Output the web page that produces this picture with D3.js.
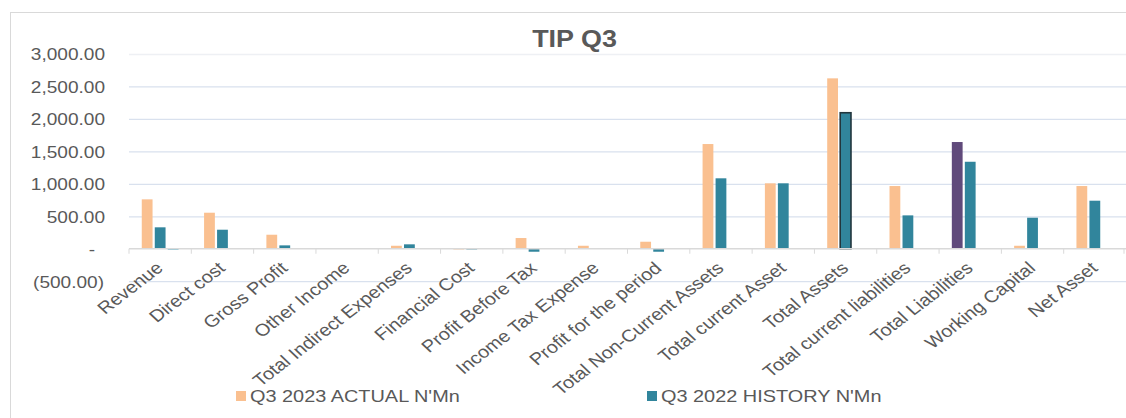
<!DOCTYPE html>
<html>
<head>
<meta charset="utf-8">
<script src="https://cdn.jsdelivr.net/npm/d3@7"></script>
<style>
  html, body { margin: 0; padding: 0; background: #fff; }
  svg { display: block; font-family: "Liberation Sans", Arial, sans-serif; }
</style>
</head>
<body>
<svg id="chart" width="1126" height="418"></svg>
<script>
const categories = ["Revenue", "Direct cost", "Gross Profit", "Other Income", "Total Indirect Expenses",
  "Financial Cost", "Profit Before Tax", "Income Tax Expense", "Profit for the period",
  "Total Non-Current Assets", "Total current Asset", "Total Assets", "Total current liabilities",
  "Total Liabilities", "Working Capital", "Net Asset"];
const actual2023 = [761, 555, 216, 0, 46, 4, 165, 46, 108, 1613, 1008, 2625, 966, 1644, 46, 966];
const history2022 = [330, 293, 52, 0, 68, 4, -46, 0, -46, 1085, 1008, 2095, 514, 1340, 478, 740];
const extraSeries = [-15, 0, 0, 0, 0, 0, 0, 0, 0, 0, 0, 0, 0, 0, 0, 0];
const yTicks = [-500, 0, 500, 1000, 1500, 2000, 2500, 3000];
const seriesNames = ["Q3 2023 ACTUAL N'Mn", "Q3 2022 HISTORY N'Mn", "extra"];
const legendNames = ["Q3 2023 ACTUAL N'Mn", "Q3 2022 HISTORY N'Mn"];
const title = "TIP Q3";

const colors = { "Q3 2023 ACTUAL N'Mn": "#FAC090", "Q3 2022 HISTORY N'Mn": "#31859C", "extra": "#4BACC6" };
const sx = 1.17;
const textColor = "#595959";

const svg = d3.select("#chart");
svg.append("rect").attr("width", 1126).attr("height", 418).attr("fill", "#fff");
svg.append("rect").attr("x", 10.5).attr("y", 12.5).attr("width", 1300).attr("height", 600)
  .attr("fill", "none").attr("stroke", "#d9d9d9").attr("stroke-width", 1);

const left = 129, right = 1126;
const x = d3.scaleBand().domain(categories).range([left, right]).padding(0);
const y = d3.scaleLinear().domain([-500, 3000]).range([281.2, 54]);
const x1 = d3.scaleBand().domain(seriesNames).range([-19.5, 19.5]).paddingInner(0.17).paddingOuter(0.085);

// gridlines
const grid = svg.append("g").attr("transform", `translate(${left},0)`)
  .call(d3.axisLeft(y).tickValues(yTicks.filter(t => t !== 0)).tickSize(-(right - left)).tickFormat(""));
grid.select(".domain").remove();
grid.selectAll(".tick line").attr("stroke", d => d === 3000 ? "#eef0f4" : "#d9e1ee").attr("stroke-width", 1.3);

// y labels
const fmt = v => v === 0 ? "-" : (v < 0 ? "(" + d3.format(",.2f")(-v) + ")" : d3.format(",.2f")(v));
const yAxis = svg.append("g").attr("transform", "translate(105,0)")
  .call(d3.axisLeft(y).tickValues(yTicks).tickSize(0).tickPadding(0).tickFormat(fmt));
yAxis.select(".domain").remove();
yAxis.selectAll(".tick text")
  .attr("x", 0).attr("dy", "0.36em")
  .attr("fill", textColor).attr("font-size", "16.3px")
  .attr("font-family", '"Liberation Sans", Arial, sans-serif')
  .attr("text-anchor", "end")
  .attr("transform", d => `translate(${d === 0 ? -10 : (d < 0 ? -1 : 0)},0) scale(${sx},1)`);

// bars
const data = [];
categories.forEach((c, i) => {
  data.push({ cat: c, s: seriesNames[0], v: actual2023[i] });
  data.push({ cat: c, s: seriesNames[1], v: history2022[i] });
  data.push({ cat: c, s: seriesNames[2], v: extraSeries[i] });
});
const barFill = d => (d.cat === "Total Liabilities" && d.s === seriesNames[0]) ? "#604A7B" : colors[d.s];
svg.append("g").selectAll("rect").data(data.filter(d => d.v !== 0)).join("rect")
  .attr("x", d => x(d.cat) + x.bandwidth() / 2 + x1(d.s))
  .attr("width", x1.bandwidth())
  .attr("y", d => y(Math.max(0, d.v)))
  .attr("height", d => Math.max(1, Math.abs(y(d.v) - y(0))))
  .attr("fill", barFill)
  .attr("stroke", d => (d.cat === "Total Assets" && d.s === seriesNames[1]) ? "#22363d" : "none")
  .attr("stroke-width", 1.6);

// x axis line and ticks
const y0 = y(0);
svg.append("line").attr("x1", left).attr("x2", right).attr("y1", y0).attr("y2", y0)
  .attr("stroke", "#d9d9d9").attr("stroke-width", 1.3);
svg.append("g").selectAll("line").data(categories.concat(["__end"])).join("line")
  .attr("x1", d => d === "__end" ? right - 2 : x(d))
  .attr("x2", d => d === "__end" ? right - 2 : x(d))
  .attr("y1", y0).attr("y2", y0 + 5)
  .attr("stroke", "#d9d9d9").attr("stroke-width", 1);

const xAxis = svg.append("g").attr("transform", `translate(0,${y0})`)
  .call(d3.axisBottom(x).tickSize(0).tickPadding(0));
xAxis.select(".domain").remove();
xAxis.selectAll(".tick text")
  .attr("x", 0).attr("y", 0).attr("dy", 0)
  .attr("fill", textColor).attr("font-size", "17px")
  .attr("font-family", '"Liberation Sans", Arial, sans-serif')
  .attr("text-anchor", "end")
  .attr("transform", `translate(4,20.8) scale(${sx},1) rotate(-42)`);

// title
svg.append("text").text(title)
  .attr("transform", `translate(574.5,46.5) scale(${sx},1)`)
  .attr("text-anchor", "middle").attr("font-weight", "bold").attr("font-size", "23px")
  .attr("fill", textColor);

// legend
const legendX = [236, 647];
const lg = svg.append("g").selectAll("g").data(legendNames).join("g")
  .attr("transform", (d, i) => `translate(${legendX[i]},0)`);
lg.append("rect").attr("x", 0).attr("y", 391).attr("width", 10).attr("height", 10)
  .attr("fill", d => colors[d]);
lg.append("text").text(d => d)
  .attr("transform", `translate(14,402.3) scale(${sx},1)`)
  .attr("font-size", "17px").attr("fill", textColor);
</script>
</body>
</html>
